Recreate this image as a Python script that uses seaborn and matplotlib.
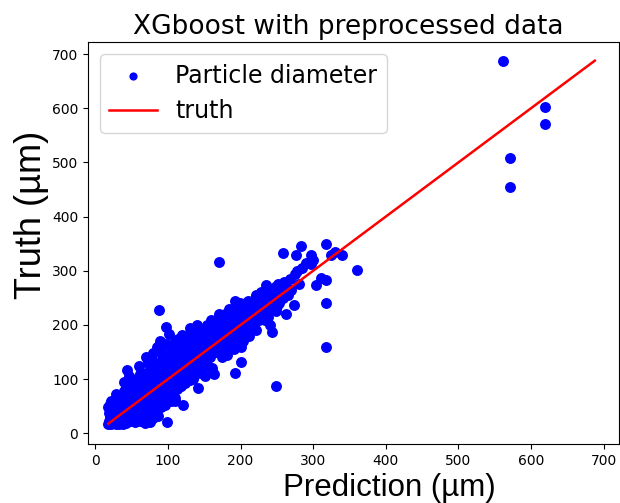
import matplotlib
matplotlib.use("Agg")
import matplotlib.pyplot as plt
import seaborn as sns
import numpy as np

# Predicted vs. true particle diameters (µm)
prediction = [
    18, 19, 20, 21, 22, 23, 24, 18, 20, 25, 22, 24, 19, 21, 23,
    26, 27, 28, 29, 30, 31, 32, 33, 34, 35, 28, 30, 33, 26, 35,
    36, 37, 38, 39, 40, 41, 42, 43, 44, 45, 42, 38, 45, 40, 44,
    46, 47, 48, 49, 50, 51, 52, 53, 54, 55, 50, 48, 55, 52, 47,
    56, 57, 58, 59, 60, 61, 62, 63, 64, 65, 60, 58, 65, 62, 64,
    66, 67, 68, 69, 70, 71, 72, 73, 74, 75, 70, 68, 75, 72, 74,
    76, 77, 78, 79, 80, 81, 82, 83, 84, 85, 80, 78, 85, 82, 84,
    86, 87, 88, 89, 90, 91, 92, 93, 94, 95, 90, 88, 95, 92, 94,
    96, 97, 98, 99, 100, 101, 102, 103, 104, 105, 100, 98, 105, 102, 104,
    106, 107, 108, 109, 110, 111, 112, 113, 114, 115, 110, 108, 115, 112, 114,
    116, 117, 118, 119, 120, 121, 122, 123, 124, 125, 120, 118, 125, 122, 124,
    126, 127, 128, 129, 130, 131, 132, 133, 134, 135, 130, 128, 135, 132, 134,
    136, 137, 138, 139, 140, 141, 142, 143, 144, 145, 140, 138, 145, 142, 144,
    146, 147, 148, 149, 150, 151, 152, 153, 154, 155, 150, 148, 155, 152, 154,
    156, 157, 158, 159, 160, 161, 162, 163, 164, 165, 160, 158, 165, 162, 164,
    166, 167, 168, 169, 170, 171, 171, 172, 173, 174, 175, 170, 168, 175, 172, 174,
    176, 177, 178, 179, 180, 181, 182, 183, 184, 185, 180, 178, 185, 182, 184,
    186, 187, 188, 189, 190, 191, 192, 192, 193, 194, 195, 190, 188, 195, 193,
    196, 197, 198, 199, 200, 201, 202, 203, 204, 205, 200, 198, 205, 202, 204,
    206, 207, 208, 209, 210, 211, 212, 213, 214, 215, 210, 208, 215,
    216, 217, 218, 219, 220, 221, 222, 223, 224, 225, 220, 218,
    228, 228, 230, 232, 233, 235, 236, 238, 240, 237, 240, 234,
    244, 242, 245, 248, 250, 251, 252, 249, 255, 253,
    259, 262, 258, 260, 262, 265, 268, 270, 273, 275, 280, 278,
    276, 283, 285, 290, 297, 297, 300, 304, 311, 318, 318, 318, 318, 325, 340, 330, 360, 249,
    28, 35, 42, 48, 55, 62, 68, 73, 80, 86, 32, 39, 46, 53, 60, 66, 72, 78, 84, 90,
    96, 50, 57, 63, 70, 76, 82, 88, 94, 100, 106, 112, 118, 124, 130, 136, 104, 110,
    562, 620, 620, 571, 571,
]
truth = [
    18, 22, 28, 35, 18, 42, 25, 48, 55, 31, 60, 20, 38, 45, 19,
    20, 36, 50, 73, 27, 44, 62, 18, 38, 55, 65, 22, 48, 58, 30,
    25, 45, 60, 78, 33, 52, 70, 22, 116, 40, 85, 18, 62, 95, 48,
    30, 55, 90, 72, 40, 62, 84, 28, 48, 66, 100, 22, 78, 35, 105,
    45, 60, 75, 92, 38, 110, 55, 80, 70, 100, 125, 28, 50, 88, 40,
    60, 78, 95, 50, 112, 70, 88, 130, 62, 21, 140, 42, 82, 105, 48,
    70, 90, 115, 55, 148, 80, 100, 125, 65, 160, 40, 135, 92, 58, 110,
    85, 110, 227, 170, 75, 130, 95, 145, 118, 65, 155, 50, 105, 138, 88,
    100, 120, 196, 21, 140, 88, 184, 110, 160, 75, 125, 165, 135, 95, 148,
    110, 130, 150, 90, 170, 120, 100, 140, 160, 85, 60, 128, 145, 115, 175,
    120, 140, 105, 160, 130, 53, 150, 95, 175, 115, 182, 135, 145, 110, 165,
    130, 150, 110, 170, 140, 185, 120, 160, 100, 145, 195, 155, 175, 135, 125,
    140, 175, 155, 120, 165, 83, 190, 135, 150, 112, 200, 130, 170, 145, 185,
    150, 170, 130, 190, 160, 105, 180, 145, 200, 125, 175, 155, 165, 140, 185,
    165, 185, 140, 200, 170, 120, 195, 155, 110, 180, 210, 160, 150, 175, 205,
    175, 195, 150, 210, 180, 316, 221, 165, 200, 140, 190, 215, 185, 160, 205, 175,
    185, 205, 160, 220, 190, 145, 210, 175, 230, 195, 170, 200, 165, 185, 215,
    195, 215, 170, 230, 200, 155, 244, 111, 185, 220, 205, 180, 210, 175, 230,
    205, 225, 180, 240, 210, 132, 195, 230, 215, 185, 160, 220, 235, 205, 170,
    215, 235, 195, 225, 205, 245, 180, 230, 210, 220, 190, 240, 200,
    225, 245, 205, 235, 215, 255, 190, 240, 225, 210, 248, 230,
    261, 235, 220, 250, 240, 273, 230, 215, 255, 265, 200, 210,
    187, 260, 245, 270, 235, 276, 255, 225, 265, 240,
    332, 221, 250, 280, 270, 255, 285, 265, 236, 295, 276, 300,
    329, 345, 305, 315, 329, 313, 320, 273, 287, 283, 240, 349, 159, 329, 329, 335, 302, 87,
    18, 20, 19, 24, 20, 22, 19, 25, 28, 32, 28, 30, 34, 37, 33, 30, 36, 40, 45, 48,
    52, 45, 50, 58, 52, 58, 62, 68, 72, 70, 78, 82, 88, 92, 98, 105, 60, 65,
    688, 603, 571, 509, 454,
]

title_text = "XGboost with preprocessed data"
x_label = "Prediction (µm)"
y_label = "Truth (µm)"
x_ticks = [0, 100, 200, 300, 400, 500, 600, 700]
y_ticks = [0, 100, 200, 300, 400, 500, 600, 700]

fig = plt.figure(figsize=(6.2, 5.03), dpi=100)
ax = fig.add_axes([0.142, 0.117, 0.856, 0.799])

sns.scatterplot(x=prediction, y=truth, ax=ax, color="blue", s=62,
                linewidth=0, alpha=1.0, label="Particle diameter", zorder=2)
line_vals = np.sort(np.array(truth))
sns.lineplot(x=line_vals, y=line_vals, ax=ax, color="red", linewidth=1.8,
             label="truth", estimator=None, sort=True, zorder=3)

ax.set_xlim(-10, 721)
ax.set_ylim(-20, 722)
ax.set_xticks(x_ticks)
ax.set_yticks(y_ticks)
ax.tick_params(labelsize=10)

ax.set_title(title_text, fontsize=19, family="DejaVu Sans", x=0.49)
ax.set_xlabel(x_label, fontsize=22.5, family=["Liberation Sans", "DejaVu Sans"])
ax.set_ylabel(y_label, fontsize=26, family=["Liberation Sans", "DejaVu Sans"],
              labelpad=2)
ax.xaxis.label.set_x(0.567)
ax.yaxis.label.set_y(0.570)

ax.legend(loc="upper left", fontsize=17, markerscale=0.75)

fig.savefig("out.png", dpi=100)
